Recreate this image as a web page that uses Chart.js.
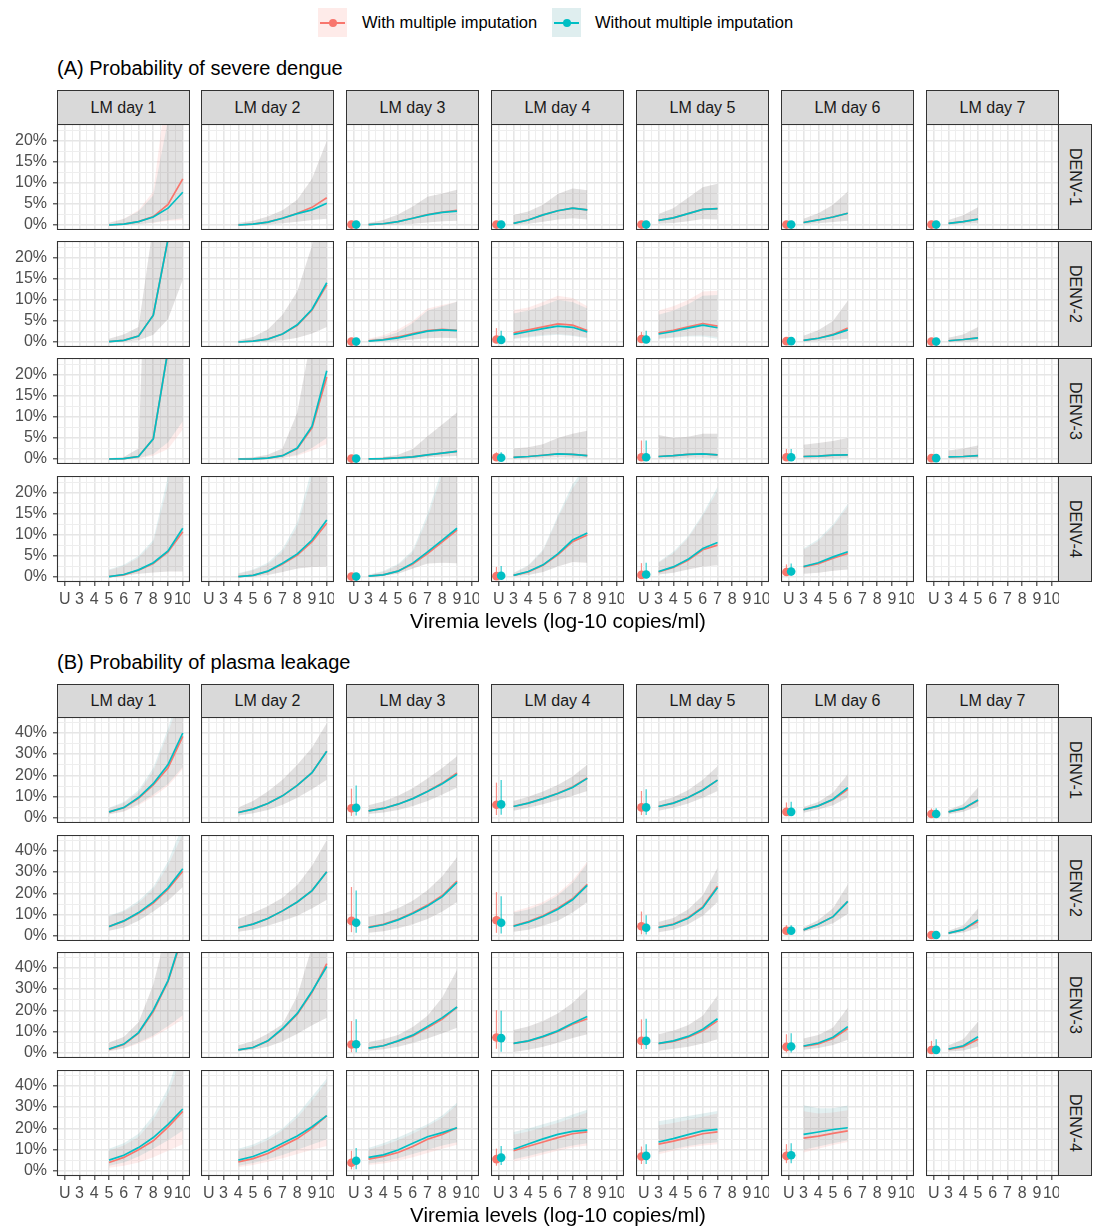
<!DOCTYPE html>
<html>
<head>
<meta charset="utf-8">
<title>Probability of severe dengue and plasma leakage by landmark day</title>
<script src="https://cdn.jsdelivr.net/npm/chart.js@4.4.1/dist/chart.umd.min.js"></script>
<style>
    html, body { margin: 0; padding: 0; background: #fff; }
    #page { position: relative; width: 1100px; height: 1228px; overflow: hidden; font-family: 'Liberation Sans', Arial, Helvetica, sans-serif; color: #000; }
    #page canvas { position: absolute; }
    .title { position: absolute; left: 57px; font-size: 20px; line-height: 24px; white-space: nowrap; }
    .axis-title { position: absolute; left: 57px; width: 1002px; text-align: center; font-size: 20.5px; line-height: 24px; white-space: nowrap; }
    .strip { position: absolute; box-sizing: border-box; background: #D9D9D9; border: 1px solid #333; color: #1A1A1A; font-size: 16px; display: flex; align-items: center; justify-content: center; white-space: nowrap; }
    .strip.right { writing-mode: vertical-rl; }
    .key { position: absolute; top: 8px; width: 29px; height: 29px; }
    .key .ln { position: absolute; left: 2px; right: 2px; top: 13.5px; height: 2px; }
    .key .dot { position: absolute; left: 10.5px; top: 10.5px; width: 8px; height: 8px; border-radius: 50%; }
    .legend-text { position: absolute; top: 12px; font-size: 16.5px; line-height: 20px; white-space: nowrap; }
</style>
</head>
<body>
<div id="page">
    <div class="key" style="left:318px;background:rgba(248,118,109,0.15)"><div class="ln" style="background:#F8766D"></div><div class="dot" style="background:#F8766D"></div></div>
    <div class="legend-text" style="left:362px">With multiple imputation</div>
    <div class="key" style="left:552px;background:rgba(40,140,145,0.15)"><div class="ln" style="background:#00BFC4"></div><div class="dot" style="background:#00BFC4"></div></div>
    <div class="legend-text" style="left:595px">Without multiple imputation</div>
</div>
<script>
// ---- axes / labels ----
const dayLabels = ['LM day 1', 'LM day 2', 'LM day 3', 'LM day 4', 'LM day 5', 'LM day 6', 'LM day 7'];
const seroLabels = ['DENV-1', 'DENV-2', 'DENV-3', 'DENV-4'];
const xTickVals = [2, 3, 4, 5, 6, 7, 8, 9, 10];
const xTickText = ['U', '3', '4', '5', '6', '7', '8', '9', '10'];
const xMinorVals = [1.5, 2.5, 3.5, 4.5, 5.5, 6.5, 7.5, 8.5, 9.5];
const sevTickVals = [0, 5, 10, 15, 20];
const sevMinorVals = [2.5, 7.5, 12.5, 17.5, 22.5];
const leakTickVals = [0, 10, 20, 30, 40];
const leakMinorVals = [5, 15, 25, 35, 45];

// ---- data (percent). mi = with MI, no = without MI; lo/hi = ribbon; u = [mi, miLo, miHi, no, noLo, noHi] at "U" ----
const sevDenv1 = [
    { x0: 5, mi: [0, 0.2, 0.8, 2.0, 4.9, 11.0], no: [0, 0.2, 0.8, 1.9, 4.0, 7.8], miLo: [0, 0, 0.2, 0.5, 1.0, 1.2], miHi: [0.6, 1.5, 3.5, 8, 35, 80], noLo: [0, 0, 0.2, 0.6, 1.2, 1.6], noHi: [0.5, 1.4, 3.3, 7, 25, 50] },
    { x0: 4, mi: [0, 0.2, 0.7, 1.6, 2.8, 4.2, 6.5], no: [0, 0.2, 0.7, 1.6, 2.7, 3.6, 5.2], lo: [0, 0, 0.1, 0.4, 0.8, 1.2, 1.5], hi: [0.5, 1, 2, 3.5, 6, 11, 20] },
    { x0: 3, mi: [0.1, 0.3, 0.8, 1.6, 2.5, 3.1, 3.5], no: [0.1, 0.3, 0.8, 1.6, 2.4, 3.0, 3.3], lo: [0, 0, 0.1, 0.3, 0.6, 0.9, 1.0], hi: [0.5, 1.2, 2.5, 4.4, 6.7, 7.5, 8.4], u: [0.1, 0, 0.3, 0.1, 0, 0.3] },
    { x0: 3, mi: [0.4, 1.2, 2.4, 3.4, 4.0, 3.6], lo: [0.1, 0.3, 0.8, 1.3, 1.6, 1.3], hi: [2.4, 3.2, 4.8, 7.4, 8.7, 8.3], u: [0.1, 0, 0.3, 0.1, 0, 0.3] },
    { x0: 3, mi: [1.1, 1.7, 2.7, 3.7, 3.9], lo: [0.3, 0.5, 0.9, 1.4, 1.3], hi: [2.6, 4, 6.5, 9, 9.8], u: [0.1, 0, 0.4, 0.1, 0, 0.4] },
    { x0: 3, mi: [0.6, 1.2, 1.9, 2.8], lo: [0.2, 0.4, 0.7, 1], hi: [1.5, 2.8, 4.8, 8], u: [0.1, 0, 0.3, 0.1, 0, 0.3] },
    { x0: 3, mi: [0.4, 0.8, 1.4], lo: [0.1, 0.3, 0.4], hi: [1.2, 2.3, 4.2], u: [0.1, 0, 0.3, 0.1, 0, 0.3] }
];
const sevDenv2 = [
    { x0: 5, mi: [0.1, 0.4, 1.4, 6.4, 24.5, 55], lo: [0, 0.1, 0.4, 1.7, 5.5, 14.8], hi: [0.8, 1.8, 3.6, 28, 80, 95] },
    { x0: 4, mi: [0, 0.2, 0.7, 1.9, 4.0, 7.6, 13.6], no: [0, 0.2, 0.7, 1.9, 4.1, 7.8, 14.1], lo: [0, 0, 0.1, 0.4, 1, 2, 3.6], hi: [0.4, 1.2, 3, 6.5, 12, 23, 40] },
    { x0: 3, mi: [0.3, 0.6, 1.2, 2.0, 2.7, 3.0, 2.8], no: [0.2, 0.5, 1.0, 1.8, 2.6, 2.9, 2.7], lo: [0, 0.1, 0.3, 0.6, 0.9, 1, 0.9], miHi: [0.8, 1.6, 3, 5, 8, 8.8, 9.6], noHi: [0.6, 1.2, 2.3, 4.5, 7.5, 8.5, 9.6], u: [0.1, 0, 0.3, 0.1, 0, 0.3] },
    { x0: 3, mi: [2.2, 2.9, 3.6, 4.3, 4.0, 2.7], no: [1.8, 2.5, 3.2, 3.8, 3.5, 2.4], miLo: [0.9, 1.3, 1.7, 1.9, 1.6, 1.1], miHi: [7.6, 8.2, 9.5, 11, 10.5, 8.5], noLo: [0.7, 1.1, 1.5, 1.7, 1.4, 0.9], noHi: [6.8, 7.5, 8.7, 10, 9.5, 8], u: [0.6, 0, 3.3, 0.5, 0, 2.7] },
    { x0: 3, mi: [2.2, 2.8, 3.6, 4.4, 3.8], no: [1.9, 2.5, 3.3, 4.0, 3.4], miLo: [0.9, 1.2, 1.5, 1.6, 1.2], miHi: [7.5, 8.5, 10, 12, 12.2], noLo: [0.7, 1, 1.3, 1.3, 0.8], noHi: [6.5, 7.5, 9, 11, 11.2], u: [0.7, 0, 2.4, 0.6, 0, 2.7] },
    { x0: 3, mi: [0.4, 0.9, 1.8, 3.3], no: [0.4, 0.9, 1.7, 2.9], lo: [0.1, 0.3, 0.5, 0.8], hi: [1.5, 2.8, 5, 9.8], u: [0.2, 0, 0.6, 0.2, 0, 0.6] },
    { x0: 3, mi: [0.3, 0.6, 1.0], lo: [0, 0.1, 0.2], hi: [1, 1.8, 3.6], u: [0.1, 0, 0.4, 0.1, 0, 0.4] }
];
const sevDenv3 = [
    { x0: 5, mi: [0, 0.1, 0.6, 4.8, 26, 60], hi: [0.2, 0.5, 2.5, 100, 100, 100], miLo: [0, 0, 0.1, 0.8, 2.4, 7], noLo: [0, 0, 0.2, 1.2, 4, 9] },
    { x0: 4, mi: [0, 0.05, 0.2, 0.8, 2.5, 7.4, 19.5], no: [0, 0.05, 0.2, 0.8, 2.6, 7.8, 21], hi: [0.2, 0.4, 1, 2.5, 11, 30, 80], miLo: [0, 0, 0, 0.2, 0.8, 2, 3.6], noLo: [0, 0, 0.05, 0.3, 1, 2.6, 5] },
    { x0: 3, mi: [0.05, 0.1, 0.25, 0.5, 1.0, 1.4, 1.8], lo: [0, 0, 0.1, 0.2, 0.4, 0.6, 0.7], hi: [0.2, 0.5, 1, 2.4, 5.4, 8.2, 11.1], u: [0.1, 0, 0.3, 0.1, 0, 0.3] },
    { x0: 3, mi: [0.4, 0.6, 0.9, 1.2, 1.1, 0.8], lo: [0.1, 0.2, 0.3, 0.4, 0.3, 0.2], hi: [2.5, 2.8, 3.5, 5.0, 6.0, 6.7], u: [0.4, 0, 1.6, 0.3, 0, 1.6] },
    { x0: 3, mi: [0.6, 0.8, 1.1, 1.2, 1.0], lo: [0.1, 0.2, 0.3, 0.3, 0.2], hi: [5.7, 5.0, 5.3, 6, 6], u: [0.4, 0, 4.4, 0.4, 0, 4.4] },
    { x0: 3, mi: [0.6, 0.7, 0.9, 1.0], lo: [0.1, 0.2, 0.2, 0.3], hi: [3.4, 3.8, 4.3, 5], u: [0.4, 0, 2.4, 0.4, 0, 2.4] },
    { x0: 3, mi: [0.5, 0.6, 0.8], lo: [0.1, 0.1, 0.2], hi: [2, 2.5, 3.2], u: [0.2, 0, 0.5, 0.2, 0, 0.5] }
];
const sevDenv4 = [
    { x0: 5, mi: [0.1, 0.5, 1.6, 3.2, 6.0, 10.8], no: [0.1, 0.6, 1.7, 3.4, 6.2, 11.6], lo: [0.1, 0.3, 0.8, 1.1, 1.3, 1.3], miHi: [1.6, 2.6, 4.6, 8.2, 22, 50], noHi: [1.8, 2.9, 5, 8.8, 24, 58] },
    { x0: 4, mi: [0.1, 0.4, 1.3, 3.1, 5.2, 8.4, 12.8], no: [0.1, 0.4, 1.4, 3.3, 5.5, 8.8, 13.6], lo: [0, 0.1, 0.5, 1.2, 2, 2.4, 2.5], miHi: [0.8, 1.6, 3, 6, 12, 24, 50], noHi: [0.9, 1.8, 3.4, 6.6, 13, 26, 55] },
    { x0: 3, mi: [0.2, 0.5, 1.4, 3.1, 5.6, 8.4, 11.2], no: [0.2, 0.5, 1.4, 3.3, 6.0, 8.8, 11.6], lo: [0.1, 0.3, 0.8, 2, 3.2, 3.4, 3.3], miHi: [0.5, 1.2, 2.8, 5.8, 14, 24.5, 40], noHi: [0.6, 1.4, 3.1, 6.3, 15, 26, 42], u: [0.1, 0, 0.5, 0.1, 0, 0.5] },
    { x0: 3, mi: [0.4, 1.2, 2.8, 5.3, 8.4, 10], no: [0.4, 1.3, 2.9, 5.5, 8.8, 10.5], lo: [0.2, 0.5, 1.2, 2.5, 3.6, 3.4], miHi: [0.9, 2.6, 6.2, 14, 21, 26], noHi: [1, 2.8, 6.5, 14.5, 22, 27], u: [0.2, 0, 2.4, 0.3, 0, 2.6] },
    { x0: 3, mi: [1.2, 2.3, 4.0, 6.5, 7.6], no: [1.3, 2.4, 4.2, 6.8, 8.2], lo: [0.6, 1, 1.8, 2.5, 2.8], miHi: [3.4, 5.6, 9.2, 14.5, 20.5], noHi: [3.6, 6, 9.6, 15, 21.5], u: [0.5, 0, 3.3, 0.6, 0, 3.4] },
    { x0: 3, mi: [2.4, 3.2, 4.5, 5.6], no: [2.5, 3.4, 4.8, 6.0], lo: [0.8, 1, 1.5, 1.8], miHi: [6.5, 8.6, 12, 16.8], noHi: [6.8, 9, 12.5, 17.4], u: [1.2, 0.3, 3.0, 1.3, 0.3, 3.2] },
    null
];
const leakDenv1 = [
    { x0: 5, mi: [2.8, 4.8, 9.3, 15.5, 23.6, 38.3], no: [2.9, 4.9, 9.6, 16.1, 25.1, 39.9], miLo: [1.6, 3, 6, 10, 15, 23], miHi: [4.5, 7, 12, 22, 40, 60], noLo: [1.8, 3.2, 6.5, 11, 16, 24], noHi: [4.8, 7.5, 13, 23.5, 42, 65] },
    { x0: 4, mi: [2.6, 4.2, 6.8, 10.4, 15.3, 21.3, 31.3], lo: [1.2, 2.3, 3.8, 6.2, 9.5, 13.5, 18], hi: [5, 8, 12.5, 18, 25, 33, 44.5] },
    { x0: 3, mi: [3.4, 4.5, 6.5, 9.2, 12.6, 16.4, 21.2], no: [3.4, 4.5, 6.5, 9.1, 12.4, 16.1, 20.5], lo: [1.9, 2.6, 3.8, 5.6, 8, 11, 14.3], hi: [6, 7.8, 10.5, 14, 18.5, 23.5, 29], u: [4.6, 1.0, 13.8, 4.8, 1.2, 15.3] },
    { x0: 3, mi: [5.4, 7, 9.1, 11.6, 14.6, 18.8], no: [5.4, 7, 9.1, 11.5, 14.3, 18.6], lo: [3.4, 4.8, 6.5, 8.5, 10.5, 12.7], hi: [8, 10, 12.5, 15.5, 19.5, 25], u: [6.2, 1.4, 16.6, 6.4, 1.5, 17.8] },
    { x0: 3, mi: [5.4, 7.0, 9.6, 13.2, 17.8], lo: [3.4, 4.8, 6.8, 9.5, 12.7], hi: [7.8, 9.8, 13, 18, 24.3], u: [5.0, 1.4, 12.7, 5.0, 1.4, 13.5] },
    { x0: 3, mi: [3.9, 5.7, 8.6, 13.5], no: [3.9, 5.7, 8.8, 14.3], lo: [2.5, 4, 6, 9.6], hi: [5.2, 7.5, 12, 20.5], u: [2.9, 1, 7.3, 2.9, 1, 7.6] },
    { x0: 3, mi: [2.9, 4.4, 8.2], no: [2.9, 4.5, 8.5], lo: [1.8, 3, 5.5], hi: [3.9, 6.5, 14.3], u: [1.9, 0.8, 4.5, 1.9, 0.8, 4.6] }
];
const leakDenv2 = [
    { x0: 5, mi: [4.4, 7, 10.7, 15.5, 22, 30.4], no: [4.5, 7.1, 11, 16, 22.6, 31.6], lo: [2.5, 4, 7.2, 11.5, 16.5, 23], miHi: [9.2, 11.5, 15.5, 22, 33, 48], noHi: [9.5, 12, 16.5, 23, 35, 52] },
    { x0: 4, mi: [3.9, 5.6, 8.2, 11.8, 16, 21.3, 30.2], lo: [2, 3.1, 4.8, 7, 9.5, 13, 17], hi: [8, 10.8, 14, 18, 24, 33, 45] },
    { x0: 3, mi: [4.2, 5.5, 7.8, 10.9, 14.5, 19, 25.8], no: [4, 5.3, 7.6, 10.6, 14.1, 18.5, 25.2], lo: [1.5, 2.3, 3.6, 5.5, 8, 11.5, 16], hi: [9, 10.5, 13, 16.5, 21.5, 28, 37], u: [7.1, 1.8, 23, 6.2, 1.5, 21.4] },
    { x0: 3, mi: [4.8, 6.8, 9.5, 13, 17.5, 24.3], no: [4.6, 6.5, 9.2, 12.6, 17, 23.8], lo: [2, 3, 4.8, 7.2, 11, 16], miHi: [11.5, 13.5, 16, 20, 26, 35], noHi: [11, 12.5, 15, 19, 25, 34], u: [7.4, 1.5, 20.6, 6.2, 1.2, 18.7] },
    { x0: 3, mi: [4.1, 5.6, 8.6, 13.7, 23.4], no: [4, 5.4, 8.3, 13.3, 22.8], lo: [1.8, 3, 5.5, 9.5, 16], hi: [6.6, 8.5, 12.5, 19, 32], u: [4.6, 0.8, 11.5, 3.9, 0.7, 9.8] },
    { x0: 3, mi: [2.9, 5.5, 9.1, 16.3], lo: [2, 3.8, 6, 10.5], hi: [4, 7.5, 13, 24.2], u: [2.5, 1, 5.1, 2.5, 1, 5.1] },
    { x0: 3, mi: [1.4, 3, 6.8], no: [1.4, 3, 7.6], lo: [0.7, 1.6, 3.8], hi: [2.5, 5, 12.9], u: [0.5, 0.2, 1.5, 0.5, 0.2, 1.5] }
];
const leakDenv3 = [
    { x0: 5, mi: [1.7, 4, 9.3, 19.5, 33.6, 55], no: [1.9, 4.2, 9.6, 20.1, 34, 56], hi: [5, 7.5, 14.5, 32, 60, 90], miLo: [0.8, 2, 4.5, 7.5, 11.5, 15.8], noLo: [1, 2.3, 5, 8.2, 12.7, 17.7] },
    { x0: 4, mi: [1.5, 2.6, 5.6, 11.2, 18.2, 28.5, 41.9], no: [1.5, 2.6, 5.7, 11.5, 18.6, 29, 40.6], lo: [0.8, 1.5, 3, 5.5, 9, 13, 16.6], hi: [3.7, 5.5, 9, 13.5, 26.7, 50, 70] },
    { x0: 3, mi: [2.3, 3.4, 5.5, 8.0, 11.8, 16.0, 21.5], no: [2.3, 3.4, 5.7, 8.4, 12.4, 16.6, 21.6], lo: [1.1, 1.8, 3, 4.7, 6.8, 9.3, 11.9], hi: [5.2, 6.5, 8.5, 12.2, 17.5, 26, 39], u: [4.0, 0.4, 15, 4.1, 0.4, 15.8] },
    { x0: 3, mi: [4.5, 5.6, 7.6, 10.1, 13.5, 16.1], no: [4.5, 5.7, 7.8, 10.4, 14, 17.1], lo: [0.5, 1.5, 3, 4.8, 7, 8.8], hi: [10.8, 12.5, 15, 18.5, 23.5, 30], u: [7.3, 2.0, 20.1, 7.0, 0.6, 19.8] },
    { x0: 3, mi: [4.4, 5.5, 7.4, 10.5, 15.1], no: [4.5, 5.7, 7.8, 11.2, 16.1], lo: [1.1, 2, 3, 4.5, 6.5], hi: [8.8, 10.5, 13, 17.5, 27], u: [5.7, 1.9, 15.8, 5.7, 1.9, 16.1] },
    { x0: 3, mi: [3.1, 4.3, 6.8, 11.5], no: [3.3, 4.7, 7.4, 12.4], lo: [1.5, 2.4, 3.8, 6.2], hi: [6.8, 8.5, 12, 21.2], u: [2.9, 0.3, 8.8, 3.1, 0.3, 9.3] },
    { x0: 3, mi: [1.7, 3.0, 6.5], no: [1.9, 3.4, 7.6], lo: [0.7, 1.2, 3.1], hi: [3.7, 6.5, 14.7], u: [1.4, 0.3, 5.7, 1.5, 0.3, 6.5] }
];
const leakDenv4 = [
    { x0: 5, mi: [4.0, 6.4, 10, 14.2, 20.6, 28], no: [5.1, 7.4, 11, 15.7, 21.9, 29.1], miLo: [1.5, 2.5, 4, 6.5, 9.5, 12.6], miHi: [9.5, 12, 16, 24, 36, 55], noLo: [2.5, 4, 6.8, 10.5, 14.5, 19], noHi: [10.5, 13, 17.5, 26, 39, 60] },
    { x0: 4, mi: [4.3, 5.8, 8.2, 11.8, 15.2, 20, 26], no: [5.1, 6.8, 9.5, 13, 16.4, 20.8, 26], miLo: [1.8, 2.8, 4.3, 6, 8, 10, 11.8], miHi: [9.5, 11.5, 14.5, 19, 25, 33, 42], noLo: [2.5, 3.8, 5.5, 7.5, 10, 12.5, 14.9], noHi: [10.5, 12.5, 15.6, 20, 26.4, 35, 43.4] },
    { x0: 3, mi: [5.6, 6.9, 8.7, 11.5, 14.9, 17.2, 20.3], no: [6.4, 7.6, 9.9, 13, 16.1, 18, 20.3], miLo: [2.8, 3.5, 4.8, 6.5, 8.5, 10.5, 12.3], miHi: [10, 12, 14.5, 17.5, 21, 25, 31], noLo: [3.5, 4.5, 6, 8, 10, 12, 13.5], noHi: [10.8, 13, 15.7, 18.8, 22, 26, 32], u: [3.9, 0.8, 9.5, 4.8, 0.8, 10.8] },
    { x0: 3, mi: [9.5, 11.6, 13.6, 15.7, 17.5, 18.4], no: [10.2, 12.7, 15.1, 17.2, 18.6, 19.2], miLo: [4.5, 6, 7.8, 9.5, 11, 12], miHi: [17, 18.5, 20.5, 22.5, 25, 27.5], noLo: [5.5, 7, 8.8, 10.5, 12, 13], noHi: [18.3, 20, 22, 24, 26.5, 28.8], u: [5.6, 2.5, 10.5, 6.3, 2.8, 11.8] },
    { x0: 3, mi: [12.6, 14, 15.7, 17.5, 18.4], no: [13.6, 15.2, 17.1, 18.8, 19.5], miLo: [7.9, 9.5, 11, 12, 12.6], miHi: [21.5, 22.5, 24, 25.5, 27], noLo: [8.8, 10.3, 11.7, 12.8, 13.5], noHi: [23.4, 24.5, 25.8, 27, 28.2], u: [6.8, 3.3, 11.5, 7.1, 3.3, 12.6] },
    { x0: 3, mi: [15.4, 16.4, 17.7, 18.8], no: [17.2, 18.3, 19.5, 20.3], miLo: [8.7, 10.5, 12.2, 13.6], miHi: [28, 27, 27.5, 28.5], noLo: [10, 11.5, 13, 14.5], noHi: [30.9, 29.5, 29.5, 30.7], u: [7.1, 3.7, 12.6, 7.4, 3.7, 13] },
    null
];

// ---- styles / layout ----
const RED = '#F8766D', TEAL = '#00BFC4';
const RIB_MI = 'rgba(248,118,109,0.13)', RIB_NO = 'rgba(40,140,145,0.13)';
const BAR_MI = 'rgba(248,118,109,0.8)', BAR_NO = 'rgba(0,191,196,0.8)';
const FONT = "'Liberation Sans', Arial, Helvetica, sans-serif";
const colLefts = [57, 201, 346, 491, 636, 781, 926];
const panelW = 133, panelH = 106, yAxisW = 57, xAxisH = 30, uDodge = 0.16;

const sections = [
    { title: '(A) Probability of severe dengue', titleY: 56, stripTop: 90, rowTops: [124, 241, 358, 476], axisTitleY: 609,
      rows: [sevDenv1, sevDenv2, sevDenv3, sevDenv4], yMin: -1.19, yMax: 24.05, major: sevTickVals, minor: sevMinorVals },
    { title: '(B) Probability of plasma leakage', titleY: 650, stripTop: 684, rowTops: [717, 835, 952, 1070], axisTitleY: 1203,
      rows: [leakDenv1, leakDenv2, leakDenv3, leakDenv4], yMin: -2.33, yMax: 47.4, major: leakTickVals, minor: leakMinorVals }
];

Chart.defaults.animation = false;
Chart.defaults.font.family = FONT;

const panelBorder = {
    id: 'panelBorder',
    afterDraw(chart) {
        const a = chart.chartArea, ctx = chart.ctx;
        ctx.save();
        ctx.strokeStyle = '#333333';
        ctx.lineWidth = 1.1;
        ctx.strokeRect(a.left + 0.5, a.top + 0.5, a.right - a.left - 1, a.bottom - a.top - 1);
        ctx.restore();
    }
};

// no label overflow padding: every panel keeps the same plotting box
function noPadding(s) {
    s.paddingLeft = 0; s.paddingRight = 0; s.paddingTop = 0; s.paddingBottom = 0;
}

function buildDatasets(p) {
    if (!p) return [];
    const pts = arr => arr.map((y, i) => ({ x: p.x0 + i, y }));
    const band = (arr, fillCol, order) => ({ data: pts(arr), borderWidth: 0, pointRadius: 0, fill: fillCol ? '-1' : false, backgroundColor: fillCol || 'transparent', order });
    const line = (arr, col, order) => ({ data: pts(arr), borderColor: col, borderWidth: 1.7, pointRadius: 0, fill: false, order, clip: 0 });
    const ds = [
        band(p.miLo || p.lo, null, 20), band(p.miHi || p.hi, RIB_MI, 19),
        band(p.noLo || p.lo, null, 18), band(p.noHi || p.hi, RIB_NO, 17),
        line(p.mi, RED, 10), line(p.no || p.mi, TEAL, 9)
    ];
    if (p.u) {
        const [mv, ml, mh, nv, nl, nh] = p.u;
        const ux = xTickVals[0];
        ds.push(
            { data: [{ x: ux - uDodge, y: ml }, { x: ux - uDodge, y: mh }], borderColor: BAR_MI, borderWidth: 1.2, pointRadius: 0, fill: false, order: 6 },
            { data: [{ x: ux + uDodge, y: nl }, { x: ux + uDodge, y: nh }], borderColor: BAR_NO, borderWidth: 1.2, pointRadius: 0, fill: false, order: 5 },
            { data: [{ x: ux - uDodge, y: mv }], showLine: false, pointRadius: 4.3, pointBackgroundColor: RED, pointBorderWidth: 0, order: 2 },
            { data: [{ x: ux + uDodge, y: nv }], showLine: false, pointRadius: 4.3, pointBackgroundColor: TEAL, pointBorderWidth: 0, order: 1 }
        );
    }
    return ds;
}

function makePanel(page, sec, r, c) {
    const isLeft = c === 0, isBottom = r === sec.rows.length - 1;
    const w = panelW + (isLeft ? yAxisW : 0), h = panelH + (isBottom ? xAxisH : 0);
    const cv = document.createElement('canvas');
    cv.width = w; cv.height = h;
    cv.style.left = (colLefts[c] - (isLeft ? yAxisW : 0)) + 'px';
    cv.style.top = sec.rowTops[r] + 'px';
    cv.style.width = w + 'px'; cv.style.height = h + 'px';
    page.appendChild(cv);

    const xGrid = [...xMinorVals, ...xTickVals].sort((a, b) => a - b);
    const yGrid = [...sec.minor, ...sec.major].sort((a, b) => a - b);
    const xMajor = v => xTickVals.includes(v);
    const yMajor = v => sec.major.includes(v);
    const tickFont = { family: FONT, size: 16 };

    new Chart(cv, {
        type: 'line',
        data: { datasets: buildDatasets(sec.rows[r][c]) },
        options: {
            responsive: false,
            events: [],
            layout: { padding: 0, autoPadding: false },
            plugins: { legend: { display: false }, tooltip: { enabled: false } },
            scales: {
                x: {
                    type: 'linear', min: 1.47, max: 10.49,
                    afterBuildTicks: s => { s.ticks = xGrid.map(v => ({ value: v })); },
                    afterFit: s => { s.height = isBottom ? xAxisH : 0; noPadding(s); },
                    ticks: { display: isBottom, autoSkip: false, maxRotation: 0, minRotation: 0, padding: 4, color: '#4D4D4D', font: tickFont,
                             callback: v => xMajor(v) ? xTickText[xTickVals.indexOf(v)] : '' },
                    grid: { color: ctx => xMajor(ctx.tick.value) ? '#E6E6E6' : '#EEEEEE', lineWidth: ctx => xMajor(ctx.tick.value) ? 1.6 : 1,
                            drawTicks: isBottom, tickLength: 4, tickWidth: 1.1,
                            tickColor: ctx => xMajor(ctx.tick.value) ? '#333333' : 'rgba(0,0,0,0)' },
                    border: { display: false }
                },
                y: {
                    type: 'linear', min: sec.yMin, max: sec.yMax,
                    afterBuildTicks: s => { s.ticks = yGrid.map(v => ({ value: v })); },
                    afterFit: s => { s.width = isLeft ? yAxisW : 0; noPadding(s); },
                    ticks: { display: isLeft, autoSkip: false, padding: 6, color: '#4D4D4D', font: tickFont,
                             callback: v => yMajor(v) ? v + '%' : '' },
                    grid: { color: ctx => yMajor(ctx.tick.value) ? '#E6E6E6' : '#EEEEEE', lineWidth: ctx => yMajor(ctx.tick.value) ? 1.6 : 1,
                            drawTicks: isLeft, tickLength: 4, tickWidth: 1.1,
                            tickColor: ctx => yMajor(ctx.tick.value) ? '#333333' : 'rgba(0,0,0,0)' },
                    border: { display: false }
                }
            }
        },
        plugins: [panelBorder]
    });
}

function addDiv(page, cls, text, css) {
    const d = document.createElement('div');
    d.className = cls;
    d.textContent = text;
    d.style.cssText = css;
    page.appendChild(d);
}

const page = document.getElementById('page');
sections.forEach(sec => {
    addDiv(page, 'title', sec.title, `top:${sec.titleY}px`);
    dayLabels.forEach((lab, c) => {
        addDiv(page, 'strip', lab, `left:${colLefts[c]}px;top:${sec.stripTop}px;width:${panelW}px;height:${sec.rowTops[0] - sec.stripTop + 1}px`);
    });
    seroLabels.forEach((lab, r) => {
        addDiv(page, 'strip right', lab, `left:${colLefts[6] + panelW - 1}px;top:${sec.rowTops[r]}px;width:34px;height:${panelH}px`);
        dayLabels.forEach((_, c) => makePanel(page, sec, r, c));
    });
    addDiv(page, 'axis-title', 'Viremia levels (log-10 copies/ml)', `top:${sec.axisTitleY}px`);
});
</script>
</body>
</html>
